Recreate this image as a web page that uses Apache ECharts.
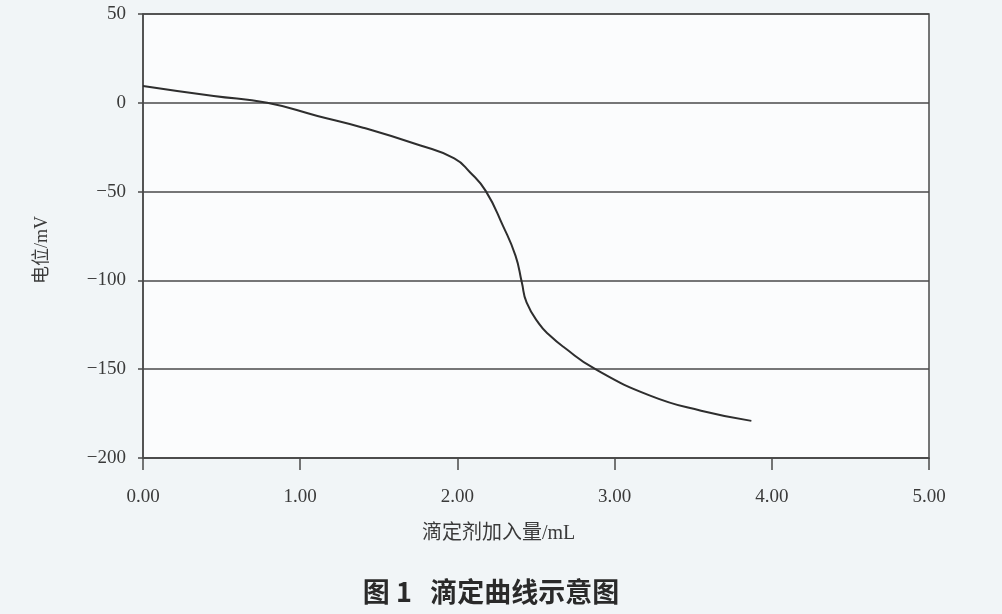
<!DOCTYPE html>
<html>
<head>
<meta charset="utf-8">
<script src="https://cdn.jsdelivr.net/npm/echarts@6/dist/echarts.min.js"></script>
<style>
html,body{margin:0;padding:0;background:#f1f5f7;}
#chart{width:1002px;height:614px;}
</style>
</head>
<body>
<div id="chart"></div>
<script>
// Titrant volume (mL)
const volume = [0.00, 0.45, 0.79, 1.11, 1.40, 1.76, 1.98, 2.08, 2.18, 2.29, 2.37, 2.41, 2.44, 2.52, 2.59, 2.68, 2.87, 3.23, 3.55, 3.87];
// Potential (mV)
const potential = [9.5, 3.8, 0.0, -7.4, -14.0, -23.9, -31.3, -39.1, -49.6, -69.3, -86.2, -101.2, -112.4, -124.5, -131.2, -137.8, -149.6, -165.0, -173.4, -179.1];
const xTicks = [0, 1, 2, 3, 4, 5];
const yTicks = [-200, -150, -100, -50, 0, 50];
const xName = '滴定剂加入量/mL';
const yName = '电位/mV';
const caption = '图 1   滴定曲线示意图';

const seriesData = volume.map((v, i) => [v, potential[i]]);
const serif = '"Liberation Serif", "Noto Sans CJK SC", serif';

const chart = echarts.init(document.getElementById('chart'));
chart.setOption({
  backgroundColor: '#f1f5f7',
  animation: false,
  grid: {
    left: 143, top: 14, right: 73, bottom: 156,
    show: true, backgroundColor: '#fbfcfd',
    borderColor: '#4a4a4a', borderWidth: 1.5
  },
  xAxis: {
    type: 'value',
    min: xTicks[0], max: xTicks[xTicks.length - 1], interval: 1,
    axisLine: { show: true, onZero: false, lineStyle: { color: '#4a4a4a', width: 1.5 } },
    axisTick: { show: true, length: 12, lineStyle: { color: '#4a4a4a', width: 1.5 } },
    splitLine: { show: false },
    axisLabel: {
      margin: 30, fontSize: 19, color: '#3a3a3a', fontFamily: serif,
      formatter: v => v.toFixed(2)
    }
  },
  yAxis: {
    type: 'value',
    min: yTicks[0], max: yTicks[yTicks.length - 1], interval: 50,
    axisLine: { show: true, onZero: false, lineStyle: { color: '#4a4a4a', width: 1.5 } },
    axisTick: { show: true, length: 5, lineStyle: { color: '#4a4a4a', width: 1.5 } },
    splitLine: { show: true, lineStyle: { color: '#4a4a4a', width: 1.5 } },
    axisLabel: {
      margin: 17, fontSize: 19, color: '#3a3a3a', fontFamily: serif,
      formatter: v => String(v).replace('-', '\u2212')
    }
  },
  graphic: [
    {
      type: 'text', left: 422, top: 524,
      style: { text: xName, fontSize: 20, fill: '#3a3a3a', fontFamily: serif }
    },
    {
      type: 'text', x: 42, y: 250, rotation: Math.PI / 2,
      style: { text: yName, fontSize: 18, fill: '#3a3a3a', fontFamily: serif, align: 'center', verticalAlign: 'middle' }
    },
    {
      type: 'text', x: 491, y: 592,
      style: { text: caption, fontSize: 27, fontWeight: 'bold', fill: '#2a2a2a', fontFamily: '"Noto Sans CJK SC", sans-serif', align: 'center', verticalAlign: 'middle' }
    }
  ],
  series: [{
    type: 'line',
    data: seriesData,
    smooth: 0.5,
    showSymbol: false,
    lineStyle: { color: '#2e2e2e', width: 2 }
  }]
});
</script>
</body>
</html>
